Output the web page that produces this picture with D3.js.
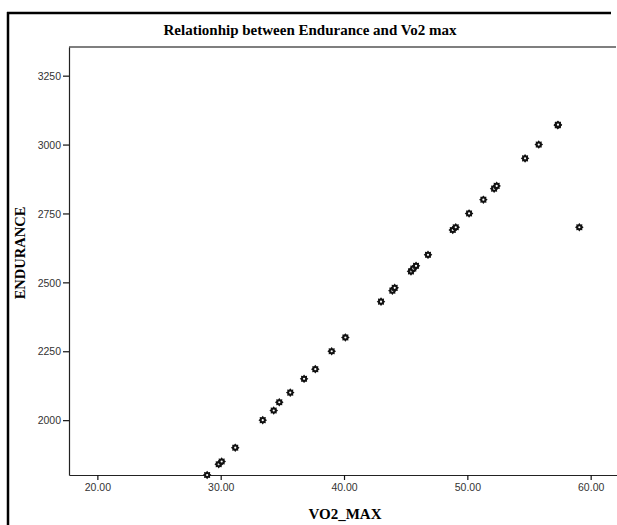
<!DOCTYPE html>
<html lang="en">
    <head>
        <meta charset="UTF-8" />
        <title>Relationhip between Endurance and Vo2 max</title>
        <style>
            html, body { margin: 0; background: #fff; overflow: hidden; }
            #stage { width: 617px; height: 525px; overflow: hidden; }
            #stage svg { display: block; }
        </style>
    </head>
    <body>
        <script src="https://d3js.org/d3.v7.min.js"></script>
        <div id="stage"></div>
        <script>
            // values
            const vo2Max = [
                28.9, 29.84, 30.08, 31.18, 33.41, 34.3, 34.75, 35.64, 36.76, 37.67,
                39.0, 40.11, 43.0, 43.92, 44.11, 45.43, 45.62, 45.84, 46.81, 48.82,
                49.06, 50.14, 51.3, 52.17, 52.38, 54.68, 55.79, 57.33, 57.35, 59.08
            ];
            const endurance = [
                1801, 1840, 1850, 1900, 2000, 2035, 2065, 2100, 2150, 2185,
                2250, 2300, 2430, 2470, 2480, 2540, 2550, 2560, 2600, 2690,
                2700, 2750, 2800, 2840, 2850, 2950, 3000, 3070, 3072, 2700
            ];
            const xTicks = [20, 30, 40, 50, 60];
            const yTicks = [2000, 2250, 2500, 2750, 3000, 3250];

            const W = 617, H = 525;
            const plot = {left: 69, top: 47, right: 640, bottom: 475};

            const svg = d3.select('#stage').append('svg')
                .attr('width', W)
                .attr('height', H);

            // outer frame: left edge and top edge
            svg.append('line')
                .attr('x1', 8).attr('x2', 8)
                .attr('y1', 12).attr('y2', H + 5)
                .attr('stroke', '#000')
                .attr('stroke-width', 2.5);
            svg.append('line')
                .attr('x1', 7).attr('x2', 611)
                .attr('y1', 13).attr('y2', 13)
                .attr('stroke', '#000')
                .attr('stroke-width', 2.5);

            svg.append('text')
                .attr('x', 310).attr('y', 35)
                .attr('text-anchor', 'middle')
                .style('font-family', '"Liberation Serif", "Times New Roman", serif')
                .style('font-weight', 'bold')
                .style('font-size', '15px')
                .text('Relationhip between Endurance and Vo2 max');

            const x = d3.scaleLinear().domain([17.7, 64.0]).range([plot.left, plot.right]);
            const y = d3.scaleLinear().domain([1801, 3354]).range([plot.bottom, plot.top]);

            // top edge of the plot area
            svg.append('line')
                .attr('x1', plot.left).attr('x2', W - 1)
                .attr('y1', plot.top).attr('y2', plot.top)
                .attr('stroke', '#000')
                .attr('stroke-width', 1.2);

            const tickFont = 'font-family: "Liberation Sans", Arial, sans-serif; font-size: 10.5px;';

            const xAxis = svg.append('g')
                .attr('transform', `translate(0,${plot.bottom})`)
                .call(d3.axisBottom(x).tickValues(xTicks).tickFormat(d3.format('.2f'))
                    .tickSize(5).tickSizeOuter(0).tickPadding(4));
            const yAxis = svg.append('g')
                .attr('transform', `translate(${plot.left},0)`)
                .call(d3.axisLeft(y).tickValues(yTicks).tickFormat(d3.format('d'))
                    .tickSize(6).tickSizeOuter(0).tickPadding(2));

            [xAxis, yAxis].forEach((ax) => {
                ax.select('.domain').attr('stroke', '#222').attr('stroke-width', 1.2);
                ax.selectAll('.tick line').attr('stroke', '#111').attr('stroke-width', 1.2);
                ax.selectAll('.tick text').attr('style', tickFont).attr('fill', '#333');
            });
            yAxis.selectAll('.tick text').attr('dy', '0.35em');

            // axis titles
            svg.append('text')
                .attr('x', 345).attr('y', 519)
                .attr('text-anchor', 'middle')
                .style('font-family', '"Liberation Serif", "Times New Roman", serif')
                .style('font-weight', 'bold')
                .style('font-size', '15px')
                .text('VO2_MAX');

            svg.append('text')
                .attr('transform', 'translate(25,253) rotate(-90)')
                .attr('text-anchor', 'middle')
                .style('font-family', '"Liberation Serif", "Times New Roman", serif')
                .style('font-weight', 'bold')
                .style('font-size', '14.5px')
                .text('ENDURANCE');

            // gear-like marker, 8 teeth with a hollow centre
            const teeth = 8, rOut = 4.3, rIn = 3.1;
            const gearPts = d3.range(teeth * 2).map((i) => {
                const a = Math.PI * i / teeth;
                const r = i % 2 === 0 ? rOut : rIn;
                return [r * Math.cos(a), r * Math.sin(a)];
            });
            const gear = d3.line()(gearPts) + 'Z';

            const points = svg.append('g')
                .selectAll('g')
                .data(vo2Max.map((v, i) => ({v, e: endurance[i]})))
                .join('g')
                .attr('transform', (d) => `translate(${x(d.v)},${y(d.e)})`);
            points.append('path')
                .attr('d', gear)
                .attr('fill', '#111');
            points.append('circle')
                .attr('r', 1.1)
                .attr('fill', '#fff');
        </script>
    </body>
</html>
